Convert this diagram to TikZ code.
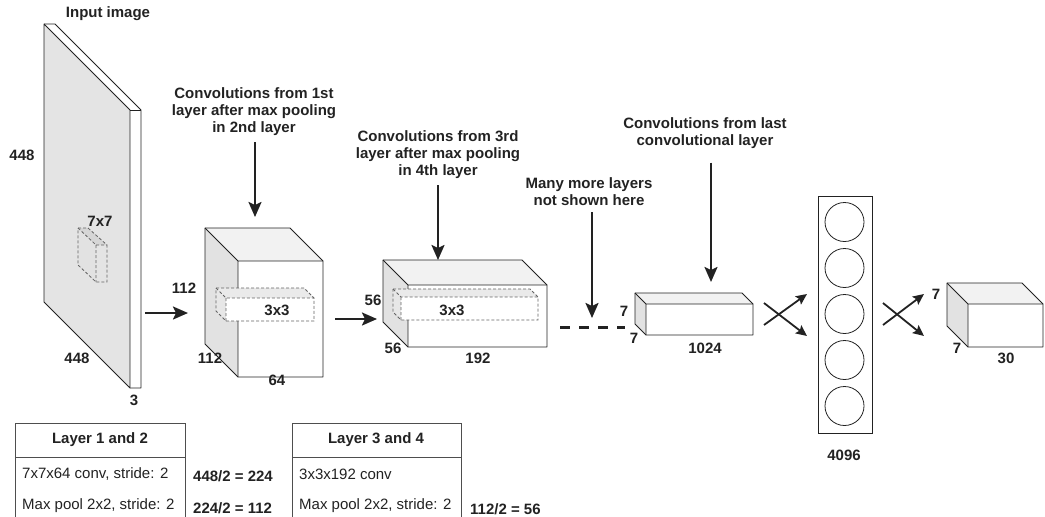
\documentclass[tikz,border=0pt]{standalone}
\usepackage{fontspec}
\setmainfont{Liberation Sans}
\usepackage{tikz}
\usetikzlibrary{arrows.meta}
\definecolor{Slab}{RGB}{228,228,228}
\definecolor{SideFace}{RGB}{226,226,226}
\definecolor{TopFace}{RGB}{242,242,242}
\definecolor{Kernel}{RGB}{214,214,214}
\definecolor{Ink}{RGB}{34,34,34}

\begin{document}
\begin{tikzpicture}[x=1pt,y=-1pt,>={Stealth[length=15pt,width=13pt,inset=3pt]},
  lbl/.style={font=\fontsize{15}{17}\selectfont\bfseries,text=Ink,inner sep=0pt,align=center},
  txt/.style={font=\fontsize{15}{17}\selectfont,text=Ink,inner sep=0pt,anchor=west},
  edge/.style={draw=Ink,line width=0.8pt,line join=round},
  kern/.style={draw=Ink!70,dashed,line width=0.8pt,dash pattern=on 3pt off 2pt},
  arr/.style={->,draw=Ink,line width=2.2pt},
  xarr/.style={-{Stealth[length=11pt,width=10pt,inset=2pt]},draw=Ink,line width=1.8pt}]
\useasboundingbox (0,0) rectangle (1045,517);

\fill[Slab] (44,24) -- (130,110) -- (130,388) -- (44,302) -- cycle;
\fill[white] (44,24) -- (55,24) -- (141,110) -- (130,110) -- cycle;
\fill[white] (130,110) rectangle (141,388);
\draw[edge] (44,24) -- (130,110) -- (130,388) -- (44,302) -- cycle;
\draw[edge] (44,24) -- (55,24) -- (141,110) -- (141,388) -- (130,388);
\draw[edge] (130,110) -- (141,110);
\fill[Kernel!70] (78,228) -- (96,245) -- (96,282) -- (78,265) -- cycle;
\fill[Kernel] (78,228) -- (88,228) -- (107,245) -- (96,245) -- cycle;
\draw[kern] (78,228) -- (88,228) -- (107,245) -- (107,282) -- (96,282) -- (78,265) -- cycle;
\draw[kern] (78,228) -- (96,245) -- (107,245) (96,245) -- (96,282);

\fill[SideFace] (205,228) -- (238,261) -- (238,377) -- (205,344) -- cycle;
\fill[TopFace] (205,228) -- (290,228) -- (323,261) -- (238,261) -- cycle;
\fill[white] (238,261) rectangle (323,377);
\draw[edge] (205,228) -- (290,228) -- (323,261) -- (323,377) -- (238,377) -- (205,344) -- cycle;
\draw[edge] (205,228) -- (238,261) -- (323,261) (238,261) -- (238,377);
\fill[Kernel!60] (216,288) -- (226,298) -- (226,321) -- (216,311) -- cycle;
\fill[TopFace!70!Kernel] (216,288) -- (304,288) -- (314,298) -- (226,298) -- cycle;
\fill[white] (226,298) rectangle (314,321);
\draw[kern] (216,288) -- (304,288) -- (314,298) -- (314,321) -- (226,321) -- (216,311) -- cycle;
\draw[kern] (216,288) -- (226,298) -- (314,298) (226,298) -- (226,321);

\fill[SideFace] (383,260) -- (408,285) -- (408,347) -- (383,322) -- cycle;
\fill[TopFace] (383,260) -- (522,260) -- (547,285) -- (408,285) -- cycle;
\fill[white] (408,285) rectangle (547,347);
\draw[edge] (383,260) -- (522,260) -- (547,285) -- (547,347) -- (408,347) -- (383,322) -- cycle;
\draw[edge] (383,260) -- (408,285) -- (547,285) (408,285) -- (408,347);
\fill[Kernel!60] (393,289) -- (401,297) -- (401,320) -- (393,312) -- cycle;
\fill[TopFace!70!Kernel] (393,289) -- (530,289) -- (538,297) -- (401,297) -- cycle;
\fill[white] (401,297) rectangle (538,320);
\draw[kern] (393,289) -- (530,289) -- (538,297) -- (538,320) -- (401,320) -- (393,312) -- cycle;
\draw[kern] (393,289) -- (401,297) -- (538,297) (401,297) -- (401,320);

\fill[SideFace] (635,293) -- (646,304) -- (646,335) -- (635,324) -- cycle;
\fill[TopFace] (635,293) -- (742,293) -- (753,304) -- (646,304) -- cycle;
\draw[edge] (635,293) -- (742,293) -- (753,304) -- (753,335) -- (646,335) -- (635,324) -- cycle;
\draw[edge] (635,293) -- (646,304) -- (753,304) (646,304) -- (646,335);

\fill[SideFace] (947,283) -- (968,304) -- (968,347) -- (947,326) -- cycle;
\fill[TopFace] (947,283) -- (1022,283) -- (1043,304) -- (968,304) -- cycle;
\draw[edge] (947,283) -- (1022,283) -- (1043,304) -- (1043,347) -- (968,347) -- (947,326) -- cycle;
\draw[edge] (947,283) -- (968,304) -- (1043,304) (968,304) -- (968,347);

\node[draw=Ink,line width=0.8pt,minimum width=54pt,minimum height=237pt,inner sep=0pt] (fc) at (845,314.5) {};
\foreach \cy [count=\i] in {222,268,314,360,406}
  \node[circle,draw=Ink,line width=0.8pt,minimum size=39pt,inner sep=0pt] (n\i) at (844.5,\cy) {};

\node[lbl] (inimg) at (108,14) {Input image};
\node[lbl] (t1) at (254,112) {Convolutions from 1st\\layer after max pooling\\in 2nd layer};
\node[lbl] (t2) at (438,155) {Convolutions from 3rd\\layer after max pooling\\in 4th layer};
\node[lbl] (t3) at (589,192) {Many more layers\\not shown here};
\node[lbl] (t4) at (705,133) {Convolutions from last\\convolutional layer};

\node[lbl] (d448a) at (22,155) {448};
\node[lbl] (k7) at (100,221) {7x7};
\node[lbl] (d448b) at (77,358) {448};
\node[lbl] (d3) at (134,400) {3};
\node[lbl] (d112a) at (184,288) {112};
\node[lbl] (d112b) at (210,358) {112};
\node[lbl] (d64) at (277,380) {64};
\node[lbl] (k3a) at (277,310) {3x3};
\node[lbl] (d56a) at (373,300) {56};
\node[lbl] (d56b) at (393,348) {56};
\node[lbl] (d192) at (478,358) {192};
\node[lbl] (k3b) at (452,310) {3x3};
\node[lbl] (d7a) at (624,311) {7};
\node[lbl] (d7b) at (634,338) {7};
\node[lbl] (d1024) at (705,348) {1024};
\node[lbl] (d4096) at (844,455) {4096};
\node[lbl] (d7c) at (936,294) {7};
\node[lbl] (d7d) at (957,348) {7};
\node[lbl] (d30) at (1006,358) {30};

\coordinate (in) at (145,313);
\coordinate (c2in) at (188,313);
\coordinate (c2out) at (335,319);
\coordinate (c3in) at (377,319);
\coordinate (c2top) at (255,217);
\coordinate (c3top) at (438,260);
\coordinate (more) at (592,318);
\coordinate (c4top) at (711,282);
\draw[arr] (in) -- (c2in);
\draw[arr] (c2out) -- (c3in);
\draw[arr,shorten <=6pt] (t1.south -| c2top) -- (c2top);
\draw[arr,shorten <=6pt] (t2.south -| c3top) -- (c3top);
\draw[arr,shorten <=6pt] (t3.south -| more) -- (more);
\draw[arr,shorten <=14pt] (t4.south -| c4top) -- (c4top);

\coordinate (gapa) at (560,327);
\coordinate (gapb) at (625,327);
\draw[draw=Ink,line width=3pt,dash pattern=on 10pt off 9pt] (gapa) -- (gapb);

\coordinate (xa1) at (764,303);
\coordinate (xa2) at (807,336);
\coordinate (xa3) at (764,325);
\coordinate (xa4) at (807,294);
\coordinate (xb1) at (883,303);
\coordinate (xb2) at (924,336);
\coordinate (xb3) at (883,325);
\coordinate (xb4) at (924,294);
\draw[xarr] (xa1) -- (xa2);
\draw[xarr] (xa3) -- (xa4);
\draw[xarr] (xb1) -- (xb2);
\draw[xarr] (xb3) -- (xb4);

\draw[draw=Ink!80,line width=0.8pt] (15,523) -- (15,423) -- (185,423) -- (185,523);
\draw[draw=Ink!80,line width=0.8pt] (15,457) -- (185,457);
\draw[draw=Ink!80,line width=0.8pt] (292,523) -- (292,423) -- (461,423) -- (461,523);
\draw[draw=Ink!80,line width=0.8pt] (292,457) -- (461,457);
\node[lbl] (tab1) at (100,440) {Layer 1 and 2};
\node[txt] (r11) at (22,474) {7x7x64 conv, stride: 2};
\node[txt] (r12) at (22,506) {Max pool 2x2, stride: 2};
\node[lbl] (tab2) at (376,440) {Layer 3 and 4};
\node[txt] (r21) at (299,474) {3x3x192 conv};
\node[txt] (r22) at (299,506) {Max pool 2x2, stride: 2};
\node[lbl,anchor=west] (s1) at (193,476) {448/2 = 224};
\node[lbl,anchor=west] (s2) at (193,508) {224/2 = 112};
\node[lbl,anchor=west] (s3) at (470,509) {112/2 = 56};
\end{tikzpicture}
\end{document}
